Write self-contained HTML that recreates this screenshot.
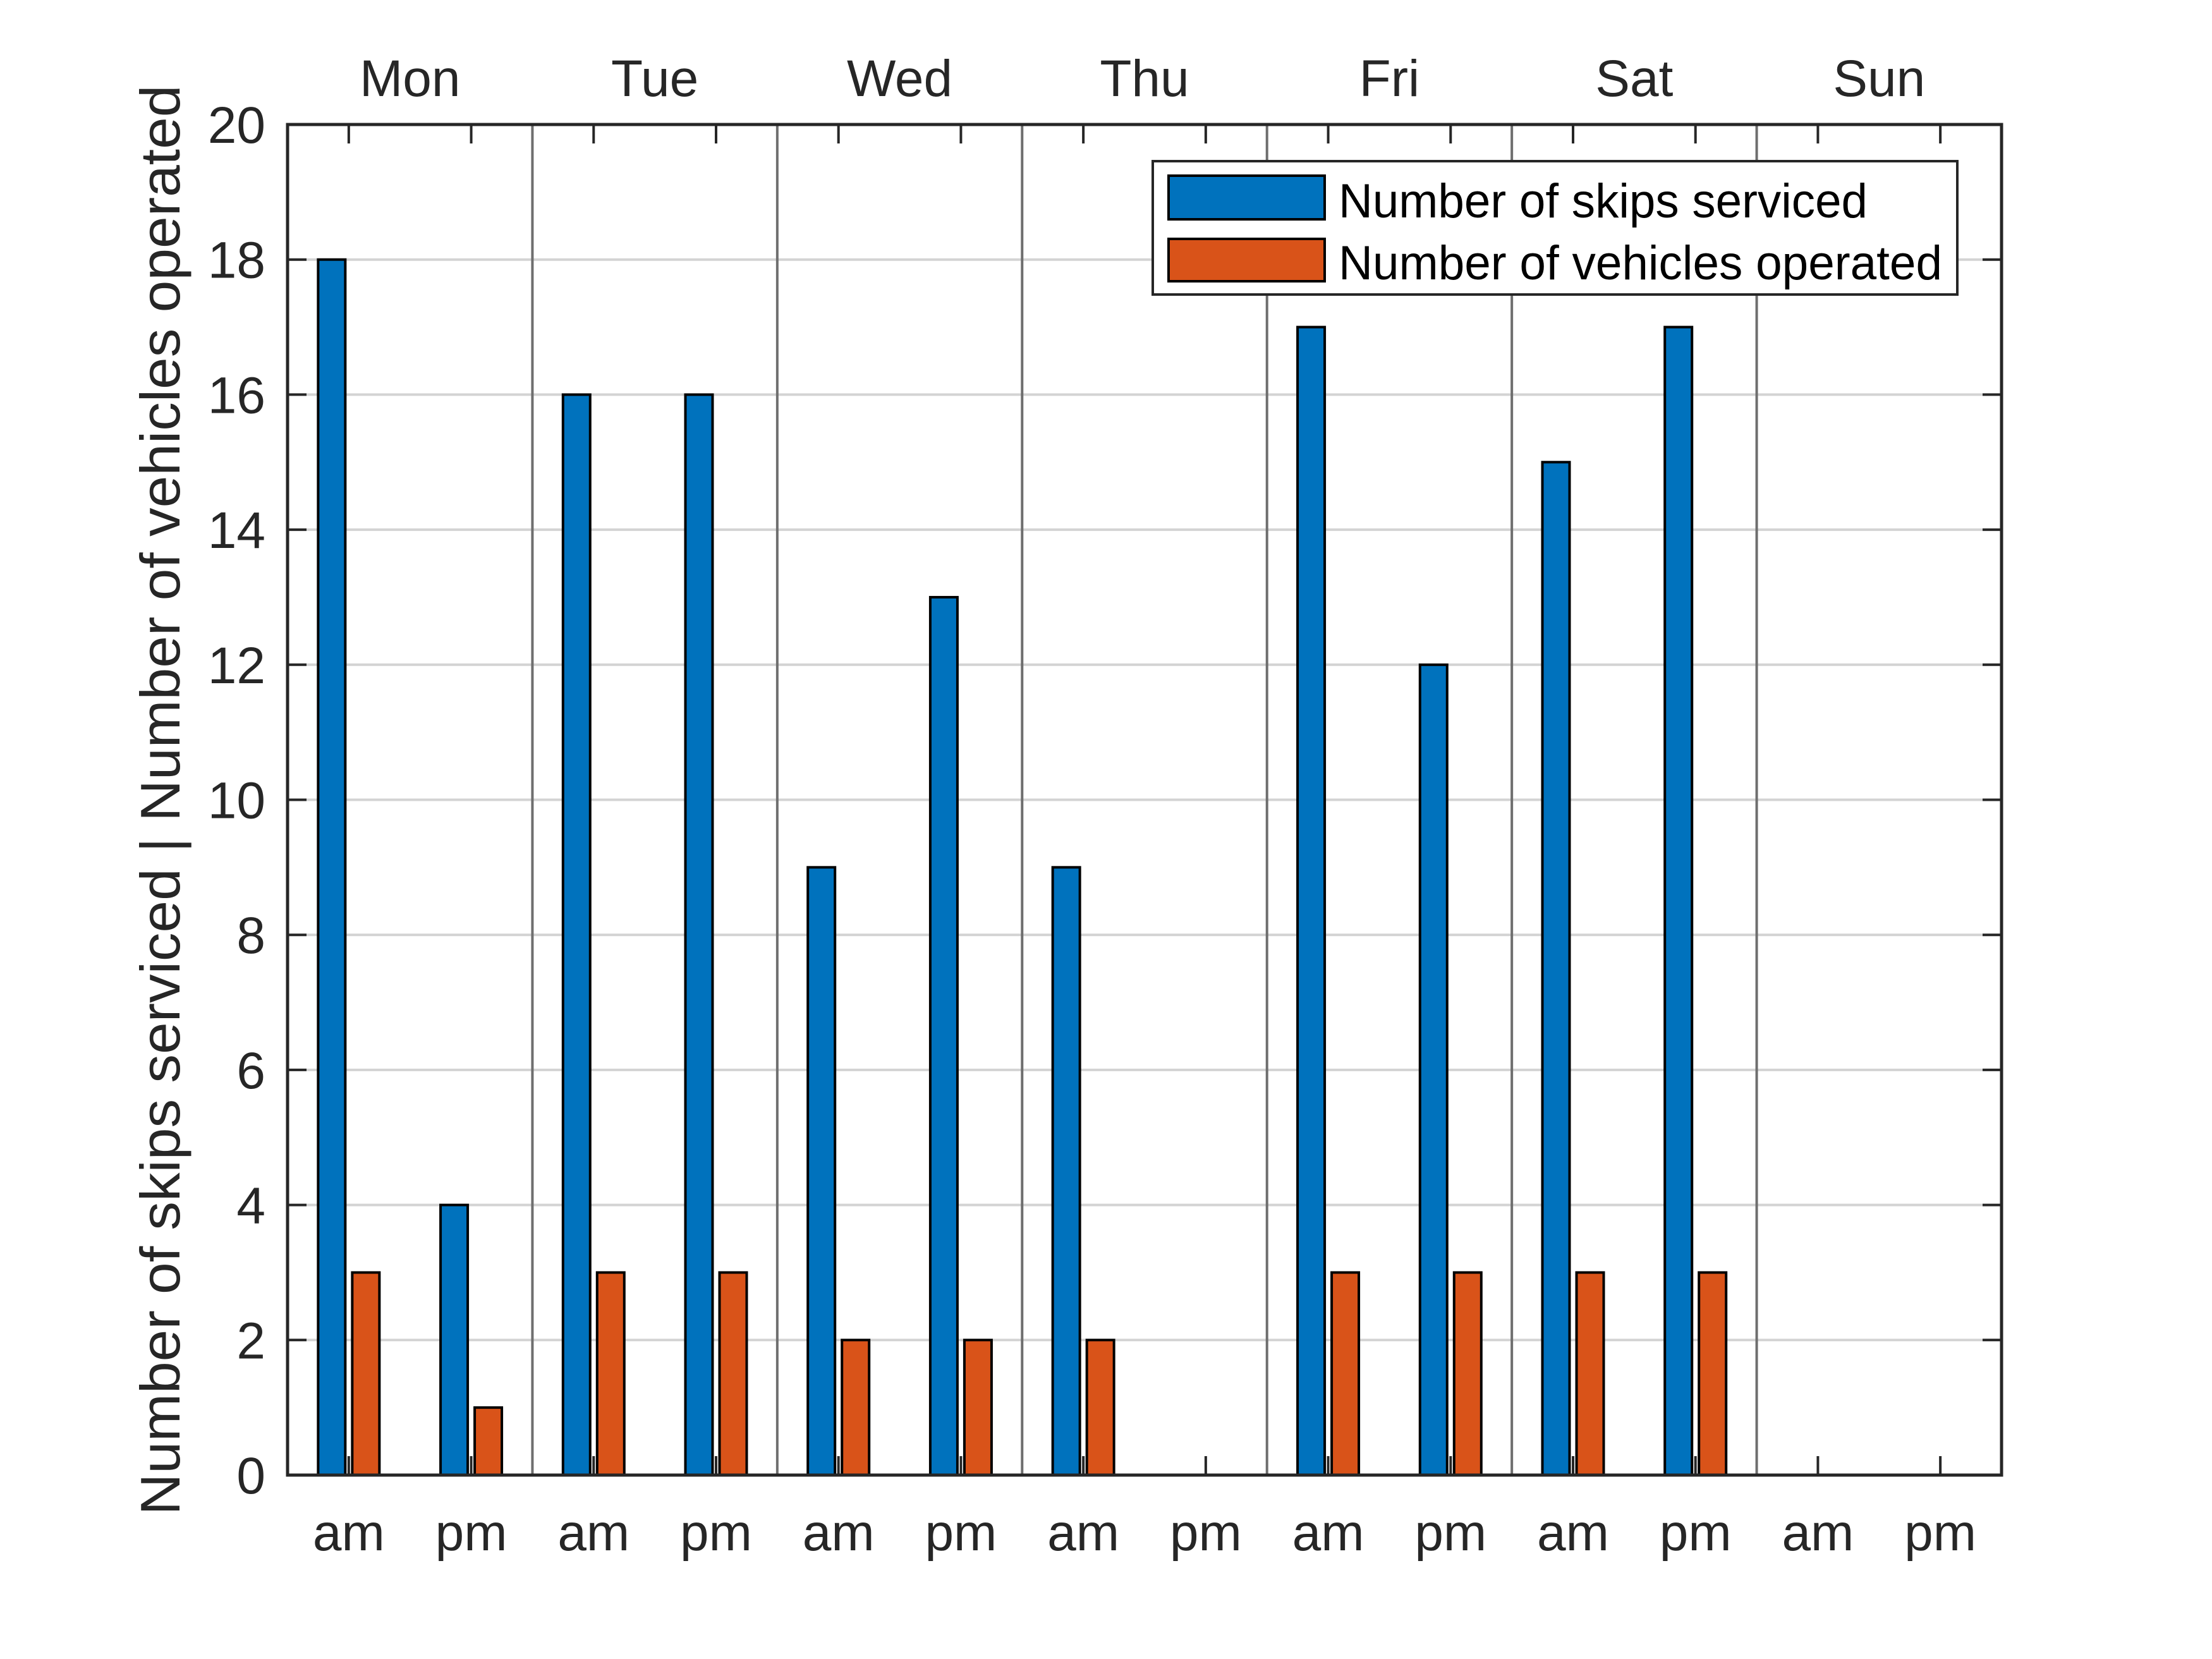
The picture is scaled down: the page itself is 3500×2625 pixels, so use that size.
<!DOCTYPE html>
<html><head><meta charset="utf-8"><style>
html,body{margin:0;padding:0;background:#fff}
svg{display:block;font-family:"Liberation Sans",Arial,sans-serif}
</style></head><body>
<svg id="chart" width="3500" height="2625" viewBox="0 0 3500 2625" xmlns="http://www.w3.org/2000/svg">
<rect width="3500" height="2625" fill="#fff"/>
<g id="grid"></g>
<g id="bars"></g>
<g id="axes"></g>
<text id="ylabel" transform="translate(284,1266) rotate(-90)" text-anchor="middle" font-size="88" textLength="2263" lengthAdjust="spacingAndGlyphs" fill="#262626">Number of skips serviced | Number of vehicles operated</text>
<g>
<rect x="1824" y="255" width="1273" height="211" fill="#fff" stroke="#262626" stroke-width="4"/>
<rect x="1849" y="278" width="247" height="69" fill="#0072bd" stroke="#000" stroke-width="4"/>
<text x="2118" y="344" font-size="76" textLength="837" lengthAdjust="spacingAndGlyphs" fill="#000">Number of skips serviced</text>
<rect x="1849" y="378" width="247" height="67" fill="#d95319" stroke="#000" stroke-width="4"/>
<text x="2118" y="442" font-size="76" textLength="955" lengthAdjust="spacingAndGlyphs" fill="#000">Number of vehicles operated</text>
</g>
</svg>
<script>
const days = ["Mon","Tue","Wed","Thu","Fri","Sat","Sun"];
const periods = ["am","pm"];
const skips = [18,4,16,16,9,13,9,0,17,12,15,17,0,0];
const vehicles = [3,1,3,3,2,2,2,0,3,3,3,3,0,0];
const yTicks = [0,2,4,6,8,10,12,14,16,18,20];

const NS = "http://www.w3.org/2000/svg";
const L = 455, R = 3167, T = 197, B = 2334;
const yMax = 20;
const nSlots = days.length * periods.length;
const slotW = (R - L) / nSlots;
const barW = 43, off = 27;
function y(v){ return B - (v / yMax) * (B - T); }
function xc(i){ return L + slotW * (i + 0.5); }
function mk(tag, attrs, parent){
  const e = document.createElementNS(NS, tag);
  for (const k in attrs) e.setAttribute(k, attrs[k]);
  parent.appendChild(e);
  return e;
}
const grid = document.getElementById('grid');
const bars = document.getElementById('bars');
const axes = document.getElementById('axes');

yTicks.forEach(v => {
  if (v > 0 && v < yMax) {
    const g = mk('line', {x1:L, x2:R, y1:y(v), y2:y(v), stroke:'#d3d3d3', 'stroke-width':4}, grid);
    
    
  }
  const t1 = mk('line', {x1:L, x2:L+30, y1:y(v), y2:y(v), stroke:'#262626', 'stroke-width':4}, axes);
  
  
  const t2 = mk('line', {x1:R-30, x2:R, y1:y(v), y2:y(v), stroke:'#262626', 'stroke-width':4}, axes);
  
  
  const lb = mk('text', {x:420, y:y(v)+29, 'text-anchor':'end', 'font-size':82, fill:'#262626'}, axes);
  lb.textContent = v;
  
  
});

for (let d = 1; d < days.length; d++) {
  const sx = L + slotW * 2 * d;
  const s = mk('line', {x1:sx, x2:sx, y1:T, y2:B, stroke:'#6e6e6e', 'stroke-width':4}, grid);
  
  
}
days.forEach((d, i) => {
  const t = mk('text', {x:L + slotW * (2*i+1), y:152, 'text-anchor':'middle', 'font-size':82, fill:'#262626'}, axes);
  t.textContent = d;
  
  
});

for (let i = 0; i < nSlots; i++) {
  const cx = xc(i);
  const b1 = mk('rect', {x:cx-off-barW/2, y:y(skips[i]), width:barW, height:B-y(skips[i]), fill:'#0072bd', stroke:'#000', 'stroke-width':4}, bars);
  
  
  const b2 = mk('rect', {x:cx+off-barW/2, y:y(vehicles[i]), width:barW, height:B-y(vehicles[i]), fill:'#d95319', stroke:'#000', 'stroke-width':4}, bars);
  
  
  const tt = mk('line', {x1:cx, x2:cx, y1:T, y2:T+30, stroke:'#262626', 'stroke-width':4}, axes);
  
  
  const tb = mk('line', {x1:cx, x2:cx, y1:B-30, y2:B, stroke:'#262626', 'stroke-width':4}, axes);
  
  
  const lb = mk('text', {x:cx, y:2453, 'text-anchor':'middle', 'font-size':82, fill:'#262626'}, axes);
  lb.textContent = periods[i % 2];
  
  
}
const box = mk('rect', {x:L, y:T, width:R-L, height:B-T, fill:'none', stroke:'#262626', 'stroke-width':5}, axes);


</script>
</body></html>
